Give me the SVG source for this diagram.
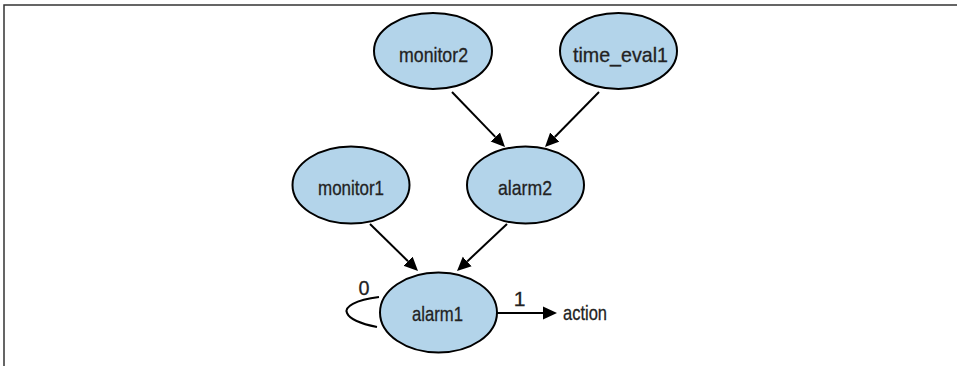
<svg xmlns="http://www.w3.org/2000/svg" width="957" height="366" viewBox="0 0 957 366">
<style>
.node ellipse{fill:#b3d4ea;stroke:#000;stroke-width:2}
.node text,.lbl{font-family:"Liberation Sans",Arial,sans-serif;font-size:21px;fill:#222;stroke:#222;stroke-width:0.3;text-anchor:middle}
.edge{stroke:#000;stroke-width:2;fill:none}
.frame{stroke:#333;stroke-width:1.5;fill:none}
</style>
<defs>
<marker id="arr" markerUnits="userSpaceOnUse" markerWidth="16" markerHeight="14" refX="0" refY="7" orient="auto">
<path d="M0,0.5 L14,7 L0,13.5 Z" fill="#000"/>
</marker>
</defs>
<path class="frame" d="M4,366 V5 H957"/>
<g id="connectors">
<line class="edge" x1="452" y1="92" x2="495.3" y2="136.9" marker-end="url(#arr)"/>
<line class="edge" x1="599" y1="92" x2="554.8" y2="137" marker-end="url(#arr)"/>
<line class="edge" x1="370" y1="224" x2="408" y2="261.2" marker-end="url(#arr)"/>
<line class="edge" x1="507" y1="224" x2="467.2" y2="261.4" marker-end="url(#arr)"/>
<line class="edge" x1="497" y1="313" x2="543" y2="313" marker-end="url(#arr)"/>
<path class="edge" d="M379,297 C355,300 344,307 347,313 C350,320 362,324 377,327"/>
<text class="lbl" x="364" y="295" textLength="11" lengthAdjust="spacingAndGlyphs">0</text>
<text class="lbl" x="519.5" y="306">1</text>
<text class="lbl" x="585" y="320" textLength="44" lengthAdjust="spacingAndGlyphs">action</text>
</g>
<g id="monitor2" class="node"><ellipse cx="433" cy="51" rx="59" ry="38"/><text x="433.5" y="62" textLength="69" lengthAdjust="spacingAndGlyphs">monitor2</text></g>
<g id="time_eval1" class="node"><ellipse cx="618.5" cy="51" rx="58.5" ry="38"/><text x="620.5" y="62" textLength="95" lengthAdjust="spacingAndGlyphs">time_eval1</text></g>
<g id="monitor1" class="node"><ellipse cx="351" cy="185" rx="58.5" ry="38.5"/><text x="351" y="195" textLength="66" lengthAdjust="spacingAndGlyphs">monitor1</text></g>
<g id="alarm2" class="node"><ellipse cx="525.5" cy="185" rx="58.5" ry="38.5"/><text x="525" y="195" textLength="54" lengthAdjust="spacingAndGlyphs">alarm2</text></g>
<g id="alarm1" class="node"><ellipse cx="438.5" cy="312.5" rx="58.5" ry="40"/><text x="437.5" y="321" textLength="51" lengthAdjust="spacingAndGlyphs">alarm1</text></g>
</svg>
